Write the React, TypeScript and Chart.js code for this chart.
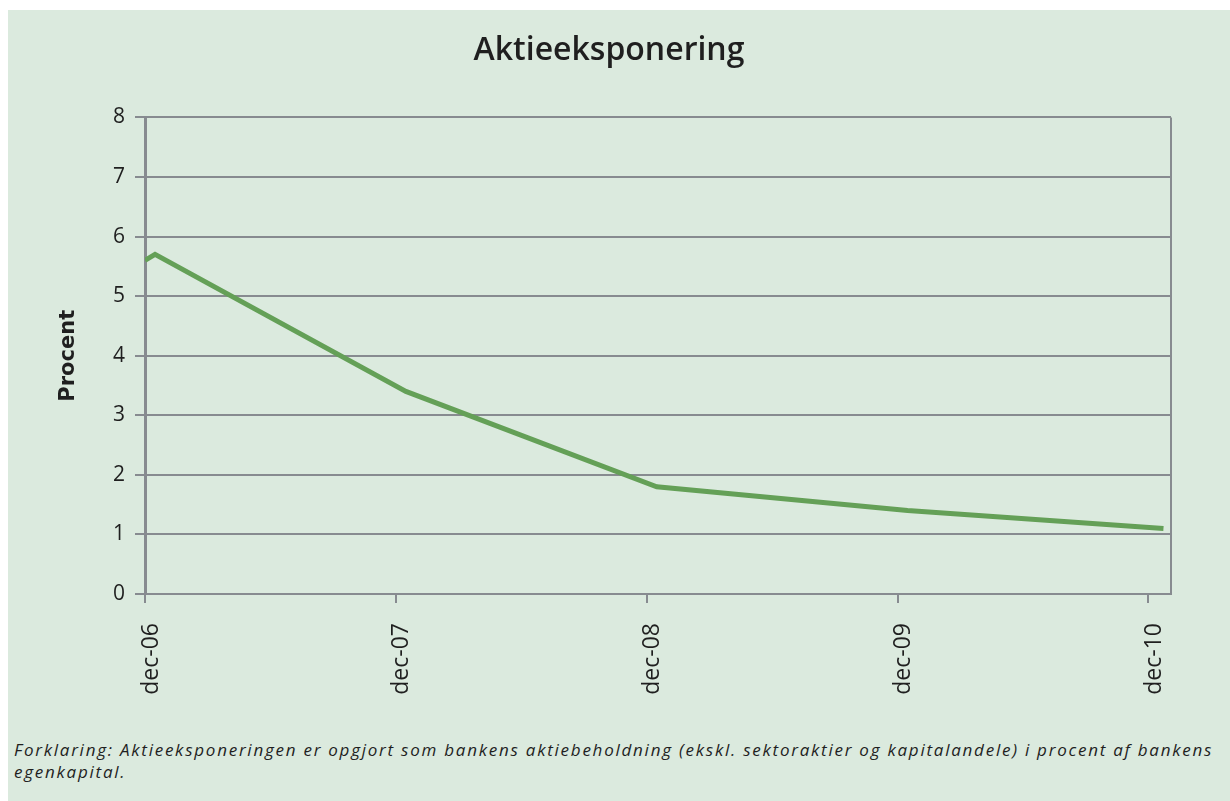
import React, { useEffect, useRef } from "react";
import { Chart, registerables } from "chart.js";

Chart.register(...registerables);

const titleText = "Aktieeksponering";
const yAxisTitle = "Procent";
const xTickValues = [0, 1, 2, 3, 4];
const xTickLabels = ["dec-06", "dec-07", "dec-08", "dec-09", "dec-10"];
// x position in years after dec-06
const seriesX = [0, 0.04, 1.04, 2.04, 3.04, 4.06];
const seriesY = [5.6, 5.7, 3.4, 1.8, 1.4, 1.1];
const footnote =
  "Forklaring: Aktieeksponeringen er opgjort som bankens aktiebeholdning (ekskl. sektoraktier og kapitalandele) i procent af bankens egenkapital.";

const GRID = "#878b90";
const TEXT = "#1f1f1f";
const BG = "#dbeade";

const rightBorder = {
  id: "rightBorder",
  afterDraw(chart: any) {
    const { ctx, chartArea } = chart;
    ctx.save();
    ctx.strokeStyle = GRID;
    ctx.lineWidth = 2;
    ctx.beginPath();
    ctx.moveTo(chartArea.right, chartArea.top);
    ctx.lineTo(chartArea.right, chartArea.bottom);
    ctx.stroke();
    ctx.restore();
  },
};

export default function App() {
  const ref = useRef<HTMLCanvasElement>(null);
  useEffect(() => {
    if (!ref.current) return;
    const chart = new Chart(ref.current, {
      type: "line",
      data: {
        datasets: [
          {
            data: seriesX.map((x, i) => ({ x, y: seriesY[i] })),
            borderColor: "#64a057",
            borderWidth: 5,
            pointRadius: 0,
            tension: 0,
            fill: false,
          },
        ],
      },
      plugins: [rightBorder],
      options: {
        animation: false,
        responsive: false,
        maintainAspectRatio: false,
        layout: { padding: { left: 0, right: 20, top: 0, bottom: 16 } },
        plugins: {
          legend: { display: false },
          tooltip: { enabled: false },
          title: {
            display: true,
            text: titleText,
            color: TEXT,
            font: { family: "'Open Sans', sans-serif", size: 32, weight: "600" },
            padding: { top: 22, bottom: 47 },
          },
        },
        scales: {
          x: {
            type: "linear",
            min: 0,
            max: 4.09,
            afterBuildTicks: (scale: any) => {
              scale.ticks = xTickValues.map((v) => ({ value: v }));
            },
            afterFit: (scale: any) => {
              scale.height = 120;
            },
            grid: {
              drawOnChartArea: false,
              drawTicks: true,
              tickLength: 9,
              color: GRID,
              lineWidth: 2,
            },
            border: { color: GRID, width: 2 },
            ticks: {
              minRotation: 90,
              maxRotation: 90,
              padding: 20,
              labelOffset: 6,
              color: TEXT,
              font: { family: "'Open Sans', sans-serif", size: 23 },
              callback: (v: any) => xTickLabels[xTickValues.indexOf(Number(v))] ?? "",
            },
          },
          y: {
            min: 0,
            max: 8,
            afterFit: (scale: any) => {
              scale.width = 137;
            },
            grid: {
              color: GRID,
              lineWidth: 2,
              tickLength: 10,
              drawTicks: true,
            },
            border: { color: GRID, width: 3 },
            ticks: {
              stepSize: 1,
              padding: 10,
              color: TEXT,
              font: { family: "'Open Sans', sans-serif", size: 21 },
            },
            title: {
              display: true,
              text: yAxisTitle,
              color: TEXT,
              font: { family: "'DejaVu Sans', sans-serif", size: 21, weight: "bold" },
              padding: { top: 48, bottom: 0 },
            },
          },
          yRight: {
            position: "right",
            min: 0,
            max: 8,
            afterFit: (scale: any) => {
              scale.width = 39;
            },
            grid: { drawOnChartArea: false, drawTicks: false },
            border: { display: false },
            ticks: { display: false },
          },
        },
      },
    });
    return () => chart.destroy();
  }, []);

  return (
    <div
      style={{
        position: "absolute",
        left: 8,
        top: 10,
        width: 1222,
        height: 791,
        background: BG,
        overflow: "hidden",
      }}
    >
      <canvas ref={ref} width={1222} height={720} style={{ display: "block" }} />
      <div
        style={{
          position: "absolute",
          left: 6,
          top: 729,
          width: 1214,
          fontFamily: "'Open Sans', sans-serif",
          fontStyle: "italic",
          fontSize: 17,
          letterSpacing: "1.75px",
          lineHeight: "22px",
          color: TEXT,
        }}
      >
        {footnote}
      </div>
    </div>
  );
}
